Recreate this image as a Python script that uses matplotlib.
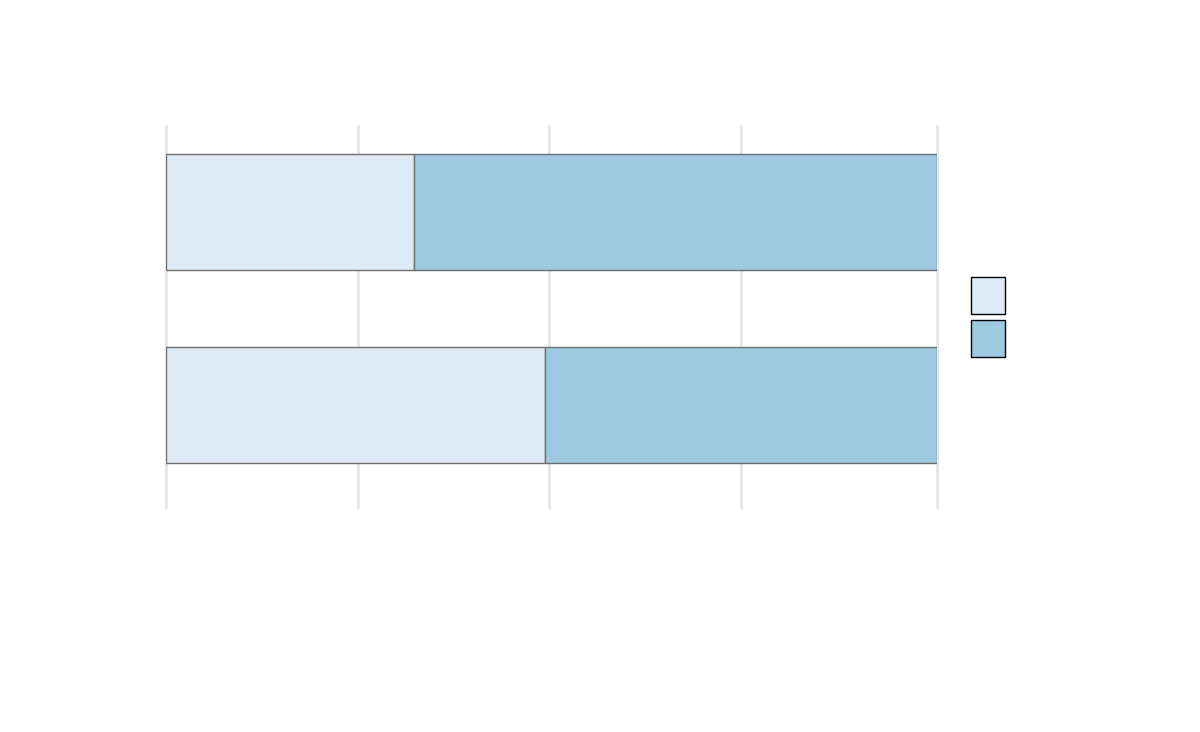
import numpy as np
import matplotlib.pyplot as plt
from matplotlib.patches import Patch

# data: two groups, shares of two categories (position = fill)
groups = ["b", "a"]          # bottom to top
share_first = [0.492, 0.322]
share_second = [0.508, 0.678]
colors = ["#deebf7", "#9ecae1"]
xticks = [0, 0.249, 0.497, 0.746, 1.0]

fig = plt.figure(figsize=(12, 7.32), dpi=100)
ax = fig.add_axes([166/1200, 225/732, 771/1200, 381/732])

y = np.arange(len(groups))
ax.barh(y, share_first, height=0.6, color=colors[0], edgecolor="#6e6e6e", linewidth=1, zorder=2)
ax.barh(y, share_second, left=share_first, height=0.6, color=colors[1],
        edgecolor="#6e6e6e", linewidth=1, zorder=2)

ax.set_xlim(0, 1.0)
ax.set_ylim(-0.53, 1.447)
ax.set_xticks(xticks)
ax.set_yticks([])
ax.grid(axis="x", color="#e6e6e6", linewidth=2, zorder=0)
for g in ax.xaxis.get_gridlines():
    g.set_clip_on(False)  # keep edge gridlines full width
ax.tick_params(length=0, labelbottom=False, labelleft=False)
for s in ax.spines.values():
    s.set_visible(False)

# legend: square keys, no labels
handles = [Patch(facecolor=c, edgecolor="black", linewidth=1) for c in colors]
fig.legend(handles, ["", ""], loc="upper left", bbox_to_anchor=(971/1200, 1 - 277/732),
           frameon=False, borderpad=0, borderaxespad=0, handlelength=2.45,
           handleheight=3.715, labelspacing=0.43, handletextpad=0, fontsize=10)

fig.savefig("out.png", dpi=100)
